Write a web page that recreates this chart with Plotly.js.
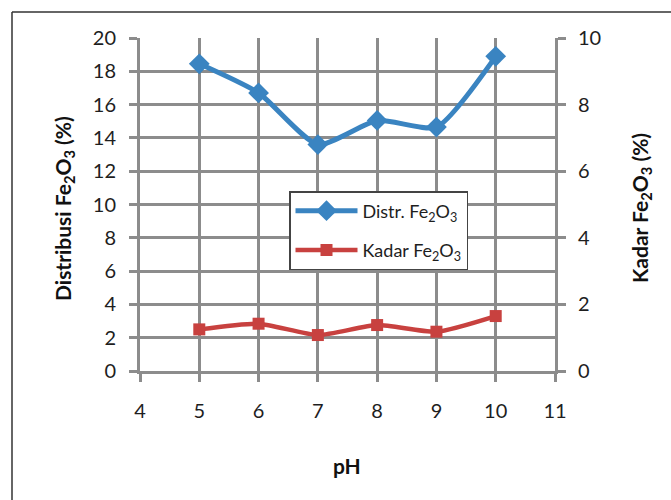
<!DOCTYPE html>
<html>
<head>
<meta charset="utf-8">
<script src="https://cdn.plot.ly/plotly-3.0.1.min.js"></script>
<style>html,body{margin:0;padding:0;background:#fff;}#chart{width:671px;height:500px;}</style>
</head>
<body>
<div id="chart"></div>
<script>
const pH = [5, 6, 7, 8, 9, 10];
const distribusi = [18.45, 16.7, 13.6, 15.05, 14.65, 18.9];
const kadar = [1.25, 1.42, 1.08, 1.38, 1.18, 1.65];
const xTicks = [4, 5, 6, 7, 8, 9, 10, 11];
const yLeftTicks = [0, 2, 4, 6, 8, 10, 12, 14, 16, 18, 20];
const yRightTicks = [0, 2, 4, 6, 8, 10];

const gridC = '#8c8c8c';
const fontF = 'Lato, "Open Sans", sans-serif';
const W = 671, H = 500, L = 140, R = 116, T = 38, B = 129;
const pw = W - L - R, ph = H - T - B;
const px = v => (v - L) / pw;
const py = v => (H - B - v) / ph;

const traces = [
  {
    x: pH, y: distribusi, name: 'Distr. Fe<sub>2</sub>O<sub>3</sub>',
    type: 'scatter', mode: 'lines+markers', yaxis: 'y', legendgroup: 'a',
    line: {color: '#3a84c1', width: 5, shape: 'spline', smoothing: 0.6},
    marker: {symbol: 'diamond', size: 16, color: '#3a84c1'}
  },
  {
    x: pH, y: kadar, name: 'Kadar Fe<sub>2</sub>O<sub>3</sub>',
    type: 'scatter', mode: 'lines+markers', yaxis: 'y2', legendgroup: 'b',
    line: {color: '#c8413f', width: 4.5, shape: 'spline', smoothing: 0.6},
    marker: {symbol: 'square', size: 12, color: '#c8413f'}
  }
];

const axisCommon = {
  showline: true, linecolor: gridC, linewidth: 3,
  ticks: 'outside', ticklen: 8, tickwidth: 3, tickcolor: gridC,
  zeroline: false, fixedrange: true,
  tickfont: {family: fontF, size: 20, color: '#1e1e1e'}
};

const layout = {
  width: W, height: H,
  margin: {l: L, r: R, t: T, b: B, pad: 0},
  paper_bgcolor: '#fff', plot_bgcolor: '#fff',
  showlegend: true,
  font: {family: fontF},
  xaxis: Object.assign({}, axisCommon, {
    range: [4, 11], tickmode: 'array', tickvals: xTicks,
    showgrid: true, gridcolor: gridC, gridwidth: 3, ticklabelstandoff: 12
  }),
  yaxis: Object.assign({}, axisCommon, {
    range: [0, 20], tickmode: 'array', tickvals: yLeftTicks,
    showgrid: true, gridcolor: gridC, gridwidth: 3, ticklabelstandoff: 9
  }),
  yaxis2: Object.assign({}, axisCommon, {
    range: [0, 10], tickmode: 'array', tickvals: yRightTicks,
    overlaying: 'y', side: 'right', showgrid: false, ticklabelstandoff: 8
  }),
  legend: {
    x: px(289), y: py(191), xanchor: 'left', yanchor: 'top',
    bgcolor: '#fff', bordercolor: '#444', borderwidth: 1.5,
    font: {family: fontF, size: 18, color: '#1e1e1e'},
    itemwidth: 62, traceorder: 'grouped', tracegroupgap: 13
  },
  annotations: [
    {text: '<b>Distribusi Fe<sub>2</sub>O<sub>3</sub> (%)</b>', xref: 'paper', yref: 'paper',
     x: px(64), y: py(209), xanchor: 'center', yanchor: 'middle', textangle: -90, showarrow: false,
     font: {family: fontF, size: 21, color: '#111'}},
    {text: '<b>Kadar Fe<sub>2</sub>O<sub>3</sub> (%)</b>', xref: 'paper', yref: 'paper',
     x: px(641), y: py(208), xanchor: 'center', yanchor: 'middle', textangle: -90, showarrow: false,
     font: {family: fontF, size: 21, color: '#111'}},
    {text: '<b>pH</b>', xref: 'paper', yref: 'paper',
     x: px(347), y: py(465), xanchor: 'center', yanchor: 'middle', showarrow: false,
     font: {family: fontF, size: 21, color: '#111'}}
  ],
  shapes: [
    {type: 'line', xref: 'paper', yref: 'paper', x0: px(12), x1: px(672), y0: py(12), y1: py(12),
     line: {color: '#333', width: 1.5}},
    {type: 'line', xref: 'paper', yref: 'paper', x0: px(12), x1: px(12), y0: py(12), y1: py(501),
     line: {color: '#333', width: 1.5}}
  ]
};

Plotly.newPlot('chart', traces, layout, {displayModeBar: false, staticPlot: true});
</script>
</body>
</html>
